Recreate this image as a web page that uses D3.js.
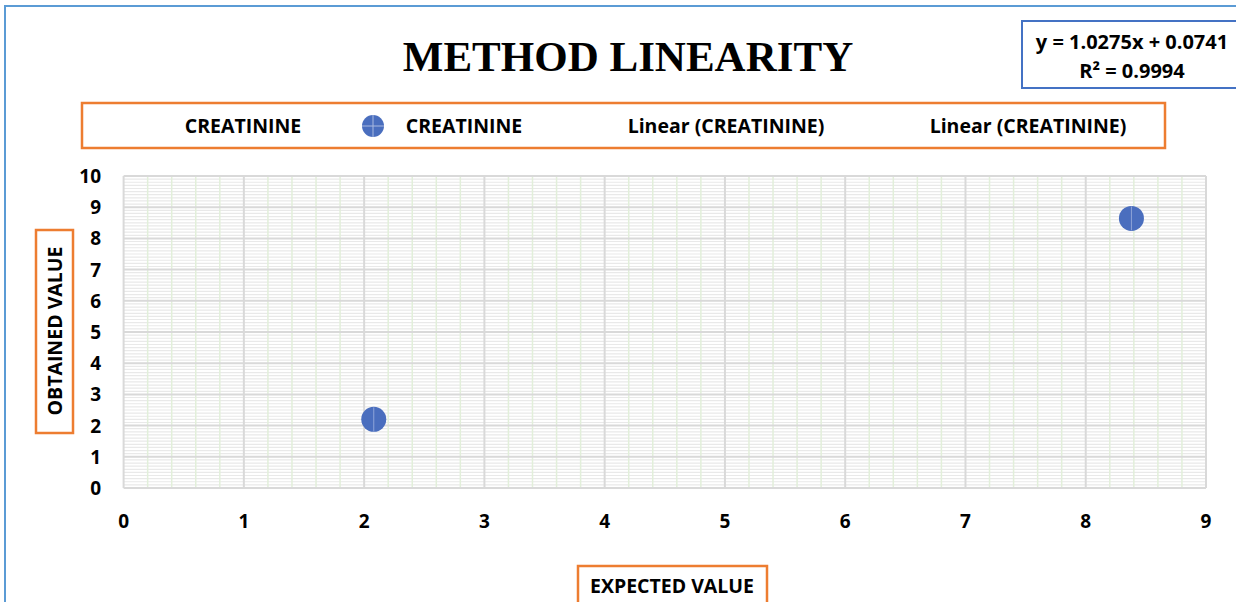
<!DOCTYPE html>
<html>
<head>
<meta charset="utf-8">
<script src="https://cdn.jsdelivr.net/npm/d3@7"></script>
<style>
  body { margin: 0; background: #fff; }
  svg { display: block; }
  text { font-family: "Open Sans", "Liberation Sans", sans-serif; font-weight: bold; fill: #000; }
</style>
</head>
<body>
<div id="chart"></div>
<script>
// data
var expected = [2.08, 8.38];
var obtained = [2.2, 8.64];
var xTicks = [0, 1, 2, 3, 4, 5, 6, 7, 8, 9];
var yTicks = [0, 1, 2, 3, 4, 5, 6, 7, 8, 9, 10];
var legendNames = ["CREATININE", "CREATININE", "Linear (CREATININE)", "Linear (CREATININE)"];
var equationLines = ["y = 1.0275x + 0.0741", "R² = 0.9994"];

var width = 1236, height = 602;
var plotL = 123.6, plotR = 1206, plotT = 176, plotB = 488;

var svg = d3.select("#chart").append("svg")
    .attr("width", width)
    .attr("height", height);

// outer chart border
svg.append("rect")
    .attr("x", 5).attr("y", 6)
    .attr("width", width + 20).attr("height", height + 20)
    .style("fill", "#fff").style("stroke", "#5b9bd5").style("stroke-width", 2);

var x = d3.scaleLinear().domain([0, 9]).range([plotL, plotR]);
var y = d3.scaleLinear().domain([0, 10]).range([plotB, plotT]);

// minor horizontal grid (0.1)
var yMinor = d3.range(1, 100).filter(function(d){ return d % 10 != 0; }).map(function(d){ return d / 10; });
svg.append("g").selectAll("line").data(yMinor).enter().append("line")
    .attr("x1", plotL).attr("x2", plotR)
    .attr("y1", function(d){ return y(d); }).attr("y2", function(d){ return y(d); })
    .style("stroke", "#e9e9e9").style("stroke-width", 1.2);

// minor vertical grid (0.2), green
var xMinor = d3.range(1, 45).filter(function(d){ return d % 5 != 0; }).map(function(d){ return d / 5; });
svg.append("g").selectAll("line").data(xMinor).enter().append("line")
    .attr("y1", plotT).attr("y2", plotB)
    .attr("x1", function(d){ return x(d); }).attr("x2", function(d){ return x(d); })
    .style("stroke", "#e2efda").style("stroke-width", 1.5);

// major grid
svg.append("g").selectAll("line").data(yTicks).enter().append("line")
    .attr("x1", plotL).attr("x2", plotR)
    .attr("y1", function(d){ return y(d); }).attr("y2", function(d){ return y(d); })
    .style("stroke", "#d9d9d9").style("stroke-width", 2);
svg.append("g").selectAll("line").data(xTicks).enter().append("line")
    .attr("y1", plotT).attr("y2", plotB)
    .attr("x1", function(d){ return x(d); }).attr("x2", function(d){ return x(d); })
    .style("stroke", "#d9d9d9").style("stroke-width", 2);

// tick labels
svg.append("g").selectAll("text").data(yTicks).enter().append("text")
    .attr("x", 101).attr("y", function(d){ return y(d) + 7; })
    .attr("text-anchor", "end").style("font-size", "19px")
    .text(function(d){ return d; });
svg.append("g").selectAll("text").data(xTicks).enter().append("text")
    .attr("x", function(d){ return x(d); }).attr("y", 528)
    .attr("text-anchor", "middle").style("font-size", "19px")
    .text(function(d){ return d; });

// points
var pts = svg.append("g").selectAll("g").data(expected).enter().append("g")
    .attr("transform", function(d, i){ return "translate(" + x(d) + "," + y(obtained[i]) + ")"; });
pts.append("circle").attr("r", 12.5).style("fill", "#4a6ebe");
pts.append("line").attr("y1", -12).attr("y2", 12)
    .style("stroke", "#8ea4d8").style("stroke-width", 1);

// title
svg.append("text")
    .attr("x", 628).attr("y", 71)
    .attr("text-anchor", "middle")
    .style("font-family", "'Liberation Serif', 'DejaVu Serif', serif")
    .style("font-size", "43px")
    .text("METHOD LINEARITY");

// equation box
svg.append("rect")
    .attr("x", 1022).attr("y", 21).attr("width", 230).attr("height", 67)
    .style("fill", "#fff").style("stroke", "#4472c4").style("stroke-width", 2);
svg.append("g").selectAll("text").data(equationLines).enter().append("text")
    .attr("x", 1132).attr("y", function(d, i){ return 49 + i * 29; })
    .attr("text-anchor", "middle").style("font-size", "20px")
    .text(function(d){ return d; });

// legend
svg.append("rect")
    .attr("x", 82).attr("y", 103).attr("width", 1083).attr("height", 45)
    .style("fill", "#fff").style("stroke", "#ed7d31").style("stroke-width", 2.5);
var legendX = [243, 464, 726, 1028];
svg.append("g").selectAll("text").data(legendNames).enter().append("text")
    .attr("x", function(d, i){ return legendX[i]; }).attr("y", 133)
    .attr("text-anchor", "middle").style("font-size", "19.5px")
    .text(function(d){ return d; });
var mk = svg.append("g").attr("transform", "translate(373,126)");
mk.append("circle").attr("r", 11).style("fill", "#4a6ebe");
mk.append("line").attr("x1", -11).attr("x2", 11).attr("y1", 0).attr("y2", 0)
    .style("stroke", "#a9b9e0").style("stroke-width", 1);
mk.append("line").attr("y1", -11).attr("y2", 11).attr("x1", 0).attr("x2", 0)
    .style("stroke", "#a9b9e0").style("stroke-width", 1);

// axis titles
svg.append("rect")
    .attr("x", 36).attr("y", 230).attr("width", 37).attr("height", 203)
    .style("fill", "#fff").style("stroke", "#ed7d31").style("stroke-width", 2.5);
svg.append("text")
    .attr("transform", "translate(62,331) rotate(-90)")
    .attr("text-anchor", "middle").style("font-size", "19.5px")
    .text("OBTAINED VALUE");

svg.append("rect")
    .attr("x", 578).attr("y", 566).attr("width", 189).attr("height", 50)
    .style("fill", "#fff").style("stroke", "#ed7d31").style("stroke-width", 2.5);
svg.append("text")
    .attr("x", 672).attr("y", 593)
    .attr("text-anchor", "middle").style("font-size", "19.5px")
    .text("EXPECTED VALUE");
</script>
</body>
</html>
